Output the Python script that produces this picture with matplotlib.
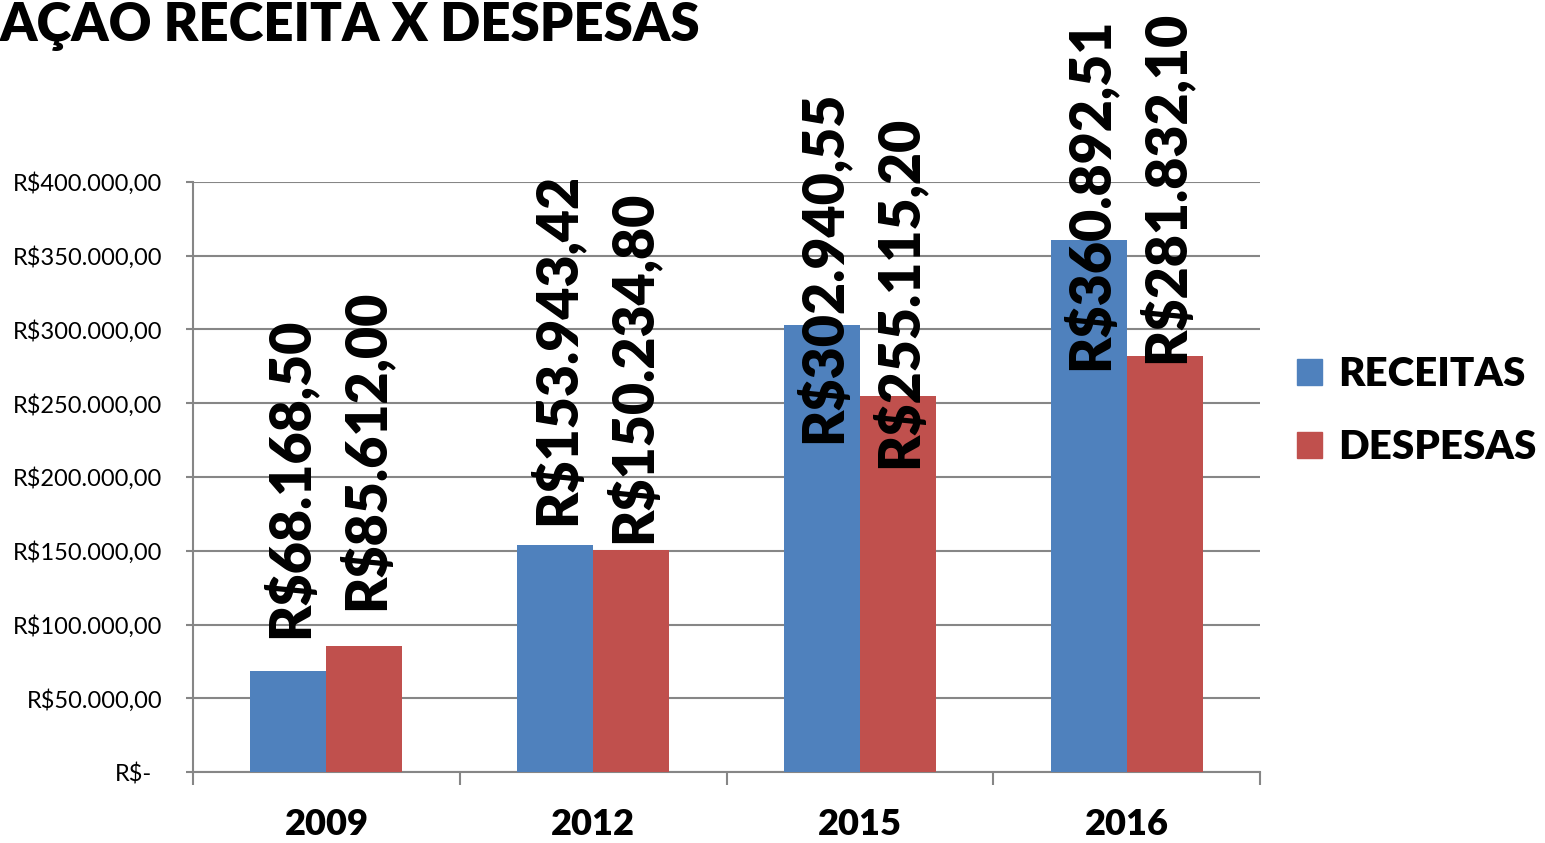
import matplotlib
matplotlib.use("Agg")
import matplotlib.pyplot as plt
from matplotlib.patches import Patch
from matplotlib.transforms import ScaledTranslation
import numpy as np

# ---- data ----
categories = ["2009", "2012", "2015", "2016"]
receitas = [68168.50, 153943.42, 302940.55, 360892.51]
despesas = [85612.00, 150234.80, 255115.20, 281832.10]
receitas_labels = ["R$68.168,50", "R$153.943,42", "R$302.940,55", "R$360.892,51"]
despesas_labels = ["R$85.612,00", "R$150.234,80", "R$255.115,20", "R$281.832,10"]
y_ticks = [0, 50000, 100000, 150000, 200000, 250000, 300000, 350000, 400000]
y_tick_labels = ["R$-", "R$50.000,00", "R$100.000,00", "R$150.000,00", "R$200.000,00",
                 "R$250.000,00", "R$300.000,00", "R$350.000,00", "R$400.000,00"]
title = "AÇAO RECEITA X DESPESAS"
series_names = ["RECEITAS", "DESPESAS"]

# label anchor (bottom of rotated label) in data units, as placed in the original
label_base_receitas = [90800, 167500, 223000, 272500]
label_base_despesas = [109800, 155300, 206100, 277300]

plt.rcParams['font.family'] = ['Lato', 'DejaVu Sans']

BLUE = "#4F81BD"
RED = "#C0504D"
GRID = "#868686"

W, H = 1545, 843
fig = plt.figure(figsize=(W / 100, H / 100), dpi=100)
ax = fig.add_axes([193 / W, 71 / H, 1067 / W, 590 / H])

x = np.arange(len(categories))
bw = 0.285
ax.bar(x - bw / 2, receitas, bw, color=BLUE, zorder=3)
ax.bar(x + bw / 2, despesas, bw, color=RED, zorder=3)

ax.set_xlim(-0.5, len(categories) - 0.5)
ax.set_ylim(0, 400000)

ax.set_yticks(y_ticks)
ax.set_yticklabels(y_tick_labels, fontsize=17)
ax.tick_params(axis='y', length=5, width=1.5, color=GRID, pad=17)
ax.yaxis.grid(True, color=GRID, linewidth=1.5, zorder=0)
# the zero label sits a little further left in the original (accounting format)
zero_lab = ax.get_yticklabels()[0]
zero_lab.set_transform(zero_lab.get_transform() + ScaledTranslation(-10 / 100, 0, fig.dpi_scale_trans))

# major ticks at category boundaries, labels at category centres
ax.set_xticks(np.arange(len(categories) + 1) - 0.5)
ax.set_xticklabels([])
ax.tick_params(axis='x', which='major', length=9, width=1.5, color=GRID)
ax.set_xticks(x, minor=True)
ax.set_xticklabels(categories, minor=True, fontsize=26, fontweight='heavy')
ax.tick_params(axis='x', which='minor', length=0, pad=26)

for s in ['top', 'right']:
    ax.spines[s].set_visible(False)
for s in ['left', 'bottom']:
    ax.spines[s].set_color(GRID)
    ax.spines[s].set_linewidth(1.5)

for i in range(len(categories)):
    ax.text(x[i] - bw / 2, label_base_receitas[i], receitas_labels[i], rotation=90,
            ha='center', va='bottom', fontsize=40, fontweight='heavy', zorder=5)
    ax.text(x[i] + bw / 2, label_base_despesas[i], despesas_labels[i], rotation=90,
            ha='center', va='bottom', fontsize=40, fontweight='heavy', zorder=5)

fig.text(0, 1 - 2 / H, title, ha='left', va='top', fontsize=38, fontweight='heavy')

handles = [Patch(color=BLUE), Patch(color=RED)]
fig.legend(handles, series_names, loc='upper left', bbox_to_anchor=(1297 / W, 1 - 356 / H),
           frameon=False, prop={'size': 29, 'weight': 'heavy'},
           handlelength=0.62, handleheight=0.62, handletextpad=0.4, labelspacing=0.9,
           borderaxespad=0, borderpad=0)

fig.savefig("out.png", dpi=100)
